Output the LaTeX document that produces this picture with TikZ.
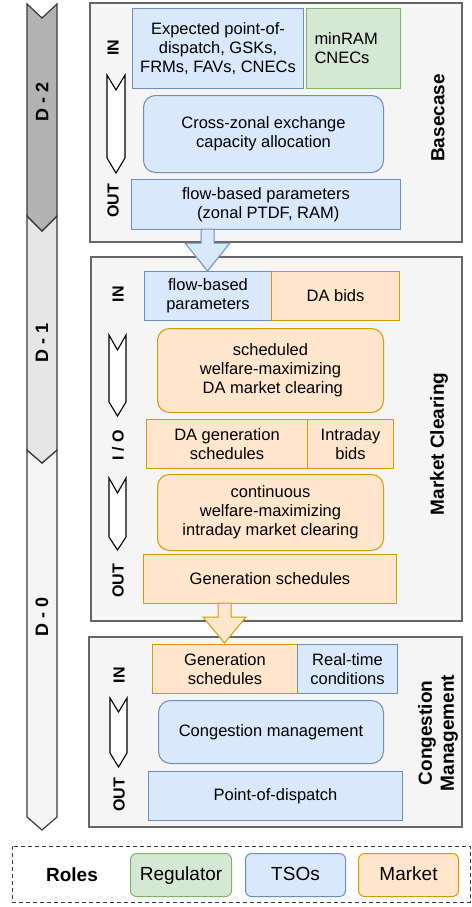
\documentclass[tikz,border=0pt]{standalone}
\usepackage{fontspec}
\setmainfont{Liberation Sans}
\usetikzlibrary{calc}
\definecolor{panelfill}{HTML}{F5F5F5}
\definecolor{panelline}{HTML}{666666}
\definecolor{bluefill}{HTML}{DAE8FC}
\definecolor{blueline}{HTML}{6C8EBF}
\definecolor{greenfill}{HTML}{D5E8D4}
\definecolor{greenline}{HTML}{82B366}
\definecolor{orangefill}{HTML}{FFE6CC}
\definecolor{orangeline}{HTML}{D79B00}
\definecolor{darkline}{HTML}{36393D}
\definecolor{dtwo}{HTML}{B3B3B3}
\definecolor{done}{HTML}{E6E6E6}
\definecolor{dzero}{HTML}{F5F5F5}
\tikzset{
  boxtext/.style={font=\fontsize{16.5}{19}\selectfont, align=center, inner sep=0pt, anchor=north west, line width=1pt},
  bluebox/.style={boxtext, fill=bluefill, draw=blueline},
  greenbox/.style={boxtext, fill=greenfill, draw=greenline},
  orangebox/.style={boxtext, fill=orangefill, draw=orangeline},
  blueproc/.style={bluebox, rounded corners=12pt},
  orangeproc/.style={orangebox, rounded corners=12pt},
  panelbox/.style={fill=panelfill, draw=panelline, line width=1.2pt},
  iolabel/.style={font=\fontsize{16}{19}\bfseries\selectfont, rotate=90, inner sep=0pt},
  paneltitle/.style={font=\fontsize{19}{22}\bfseries\selectfont, rotate=90, align=center, inner sep=0pt},
  daylabel/.style={font=\fontsize{18}{21}\bfseries\selectfont, rotate=90, inner sep=0pt},
  stepshape/.style={fill=white, draw=black, line width=1.1pt, line join=miter},
  dayshape/.style={draw=darkline, line width=1.2pt, line join=miter},
  legendbox/.style={font=\fontsize{19}{22}\selectfont, inner sep=0pt, text height=14pt, text depth=4pt, anchor=north west, line width=1pt, rounded corners=6pt, minimum width=101pt, minimum height=43pt},
  bluearrow/.style={fill=bluefill, draw=blueline, line width=1pt, line join=miter},
  orangearrow/.style={fill=orangefill, draw=orangeline, line width=1pt, line join=miter},
}
\begin{document}
\begin{tikzpicture}[x=1pt, y=-1pt]
\useasboundingbox (0,0) rectangle (471,907);

% ---------- timeline ----------
\draw[dayshape, fill=dzero] (27,450) -- (42,463) -- (57,450) -- (57,817) -- (42,830) -- (27,817) -- cycle;
\draw[dayshape, fill=done] (27,216) -- (42,231) -- (57,216) -- (57,450) -- (42,463) -- (27,450) -- cycle;
\draw[dayshape, fill=dtwo] (27,4) -- (42,18) -- (57,4) -- (57,216) -- (42,231) -- (27,216) -- cycle;
\node[daylabel] (d2) at (42,102) {D - 2};
\node[daylabel] (d1) at (42,343) {D - 1};
\node[daylabel] (d0) at (42,617) {D - 0};

% ---------- panels ----------
\draw[panelbox] (90,3) rectangle (462,242);
\draw[panelbox] (91,257) rectangle (462,621);
\draw[panelbox] (89,637) rectangle (462,827);

% ---------- Basecase ----------
\node[iolabel] (bcinlab) at (113,48) {IN};
\node[iolabel] (bcoutlab) at (113,201) {OUT};
\draw[stepshape] (107,75) -- (116,90) -- (125,75) -- (125,158) -- (116,173) -- (107,158) -- cycle;
\node[bluebox, minimum width=171pt, minimum height=80pt] (bcin1) at (132,8) {Expected point-of-\\dispatch, GSKs,\\FRMs, FAVs, CNECs};
\node[greenbox, minimum width=94pt, minimum height=80pt, align=left, text width=78pt, inner sep=0pt] (bcin2) at (306,8) {minRAM\\CNECs};
\node[blueproc, minimum width=240pt, minimum height=77pt] (bcproc) at (143,95) {Cross-zonal exchange\\capacity allocation};
\node[bluebox, minimum width=269pt, minimum height=50pt] (bcout) at (131,179) {flow-based parameters\\\ (zonal PTDF, RAM)};
\node[paneltitle] (bctitle) at (438,118) {Basecase};

% ---------- Market Clearing ----------
\node[iolabel] (mcinlab) at (118,294) {IN};
\node[iolabel] (mciolab) at (118,445) {I / O};
\node[iolabel] (mcoutlab) at (118,581) {OUT};
\draw[stepshape] (109,335) -- (117.5,350) -- (126,335) -- (126,402) -- (117.5,416) -- (109,402) -- cycle;
\draw[stepshape] (109,478) -- (117.5,493) -- (126,478) -- (126,537) -- (117.5,550) -- (109,537) -- cycle;
\node[bluebox, minimum width=127pt, minimum height=49pt] (mcin1) at (144,271) {flow-based\\parameters};
\node[orangebox, minimum width=128pt, minimum height=49pt] (mcin2) at (271,271) {DA bids};
\node[orangeproc, minimum width=226pt, minimum height=84pt] (mcproc1) at (157,328) {scheduled\\welfare-maximizing\\\ DA market clearing};
\node[orangebox, minimum width=161pt, minimum height=49pt] (mcio1) at (146,419) {DA generation\\schedules};
\node[orangebox, minimum width=86pt, minimum height=49pt] (mcio2) at (307,419) {Intraday\\bids};
\node[orangeproc, minimum width=226pt, minimum height=76pt] (mcproc2) at (157,474) {continuous\\welfare-maximizing\\intraday market clearing};
\node[orangebox, minimum width=253pt, minimum height=49pt] (mcout) at (143,554) {Generation schedules};
\node[paneltitle] (mctitle) at (439,444) {Market Clearing};

% ---------- Congestion Management ----------
\node[iolabel] (cminlab) at (119,675) {IN};
\node[iolabel] (cmoutlab) at (119,795) {OUT};
\draw[stepshape] (110,698) -- (118.5,712) -- (127,698) -- (127,753) -- (118.5,767) -- (110,753) -- cycle;
\node[orangebox, minimum width=145pt, minimum height=49pt] (cmin1) at (152,644) {Generation\\schedules};
\node[bluebox, minimum width=100pt, minimum height=49pt] (cmin2) at (297,644) {Real-time\\conditions};
\node[blueproc, minimum width=225pt, minimum height=63pt] (cmproc) at (158,700) {Congestion management};
\node[bluebox, minimum width=254pt, minimum height=49pt] (cmout) at (148,771) {Point-of-dispatch};
\node[paneltitle] (cmtitle) at (438,733) {Congestion\\Management};

% ---------- block arrows between phases ----------
\draw[bluearrow] (201,229) -- (214,229) -- (214,243) -- (230,243) -- (207.5,271) -- (185,243) -- (201,243) -- cycle;
\draw[orangearrow] (218,603) -- (231,603) -- (231,617) -- (246,617) -- (224.5,643) -- (203,617) -- (218,617) -- cycle;

% ---------- legend ----------
\draw[draw=darkline, line width=1pt, dash pattern=on 4pt off 3pt] (12,846) rectangle (470,902);
\node[font=\fontsize{19}{22}\bfseries\selectfont, inner sep=0pt] (roles) at (72,875) {Roles};
\node[legendbox, fill=greenfill, draw=greenline] (lreg) at (130,853) {Regulator};
\node[legendbox, fill=bluefill, draw=blueline, minimum width=100pt] (ltso) at (245,853) {TSOs};
\node[legendbox, fill=orangefill, draw=orangeline, minimum width=100pt] (lmkt) at (358,853) {Market};
\end{tikzpicture}
\end{document}
